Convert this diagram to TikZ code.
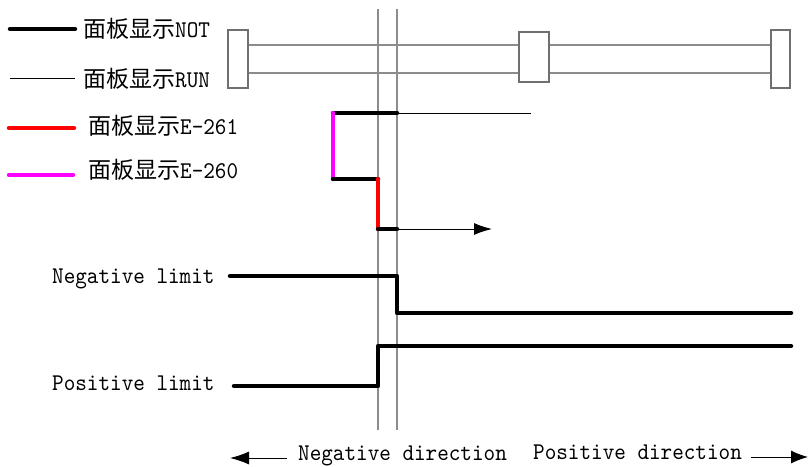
\documentclass[tikz,border=0pt]{standalone}
\usepackage{fontspec}
\usetikzlibrary{arrows.meta}
\newfontfamily\cjkf{Noto Sans CJK SC}
\newfontfamily\latf[FakeStretch=0.92]{lmmono10-regular.otf}
\definecolor{gline}{HTML}{8C8C8C}
\definecolor{gbox}{HTML}{707070}
\definecolor{mag}{HTML}{FF00FF}
\definecolor{rd}{HTML}{FF0000}
\begin{document}
\begin{tikzpicture}[x=1pt,y=-1pt,
  sig/.style={line width=4.5pt,line cap=round,line join=round},
  thinsig/.style={line width=1pt},
  guide/.style={gline,line width=1.5pt},
  rail/.style={gline,line width=1.5pt},
  boxst/.style={draw=gbox,fill=white,line width=1.2pt},
  lbl/.style={anchor=base west,inner sep=0pt,font=\fontsize{24}{24}\selectfont\latf},
  tip/.style={-{Latex[length=18pt,width=12pt]}}]
\useasboundingbox (0,0) rectangle (808,466);
% legend
\draw[sig] (10,29) -- (75,29);
\node[lbl] (l1) at (83,37) {{\fontsize{23}{23}\selectfont\cjkf 面板显示}NOT};
\draw[thinsig] (10,78) -- (75,78);
\node[lbl] (l2) at (83,87) {{\fontsize{23}{23}\selectfont\cjkf 面板显示}RUN};
\draw[sig,rd] (9,128) -- (74,128);
\node[lbl] (l3) at (88,134) {{\fontsize{23}{23}\selectfont\cjkf 面板显示}E-261};
\draw[sig,mag] (9,175) -- (73,175);
\node[lbl] (l4) at (88,178) {{\fontsize{23}{23}\selectfont\cjkf 面板显示}E-260};
% rails and boxes
\draw[rail] (238,45) -- (780,45);
\draw[rail] (238,73) -- (780,73);
\draw[boxst] (228,30) rectangle (248,88);
\draw[boxst] (519,32) rectangle (549,82);
\draw[boxst] (771,30) rectangle (790,88);
% guide lines
\draw[guide] (378,9) -- (378,430);
\draw[guide] (397,9) -- (397,430);
% panel signal
\coordinate (a1) at (397,113);
\coordinate (a2) at (333,113);
\coordinate (a3) at (333,179);
\coordinate (a4) at (378,179);
\coordinate (a5) at (378,229);
\coordinate (a6) at (397,229);
\draw[thinsig] (a1) -- (531,113);
\draw[sig] (a1) -- (a2);
\draw[sig,mag] (a2) -- (a3);
\draw[sig] (a3) -- (a4);
\draw[sig,rd] (a4) -- (a5);
\draw[sig] (a5) -- (a6);
\coordinate (a7) at (492,229);
\draw[thinsig,tip] (a6) -- (a7);
% limits
\node[lbl] (nl) at (52,283) {Negative limit};
\node[lbl] (pl) at (52,390) {Positive limit};
\draw[sig] (230,276) -- (397,276) -- (397,313) -- (791,313);
\draw[sig] (234,386) -- (378,386) -- (378,346) -- (791,346);
% directions
\node[lbl] (nd) at (298,460) {Negative direction};
\node[lbl] (pd) at (533,459) {Positive direction};
\coordinate (d1) at (287,458);
\coordinate (d2) at (230,458);
\coordinate (d3) at (751,457);
\coordinate (d4) at (808,457);
\draw[thinsig,-{Latex[length=19pt,width=13pt]}] (d1) -- (d2);
\draw[thinsig,-{Latex[length=17pt,width=13pt]}] (d3) -- (d4);
\end{tikzpicture}
\end{document}
